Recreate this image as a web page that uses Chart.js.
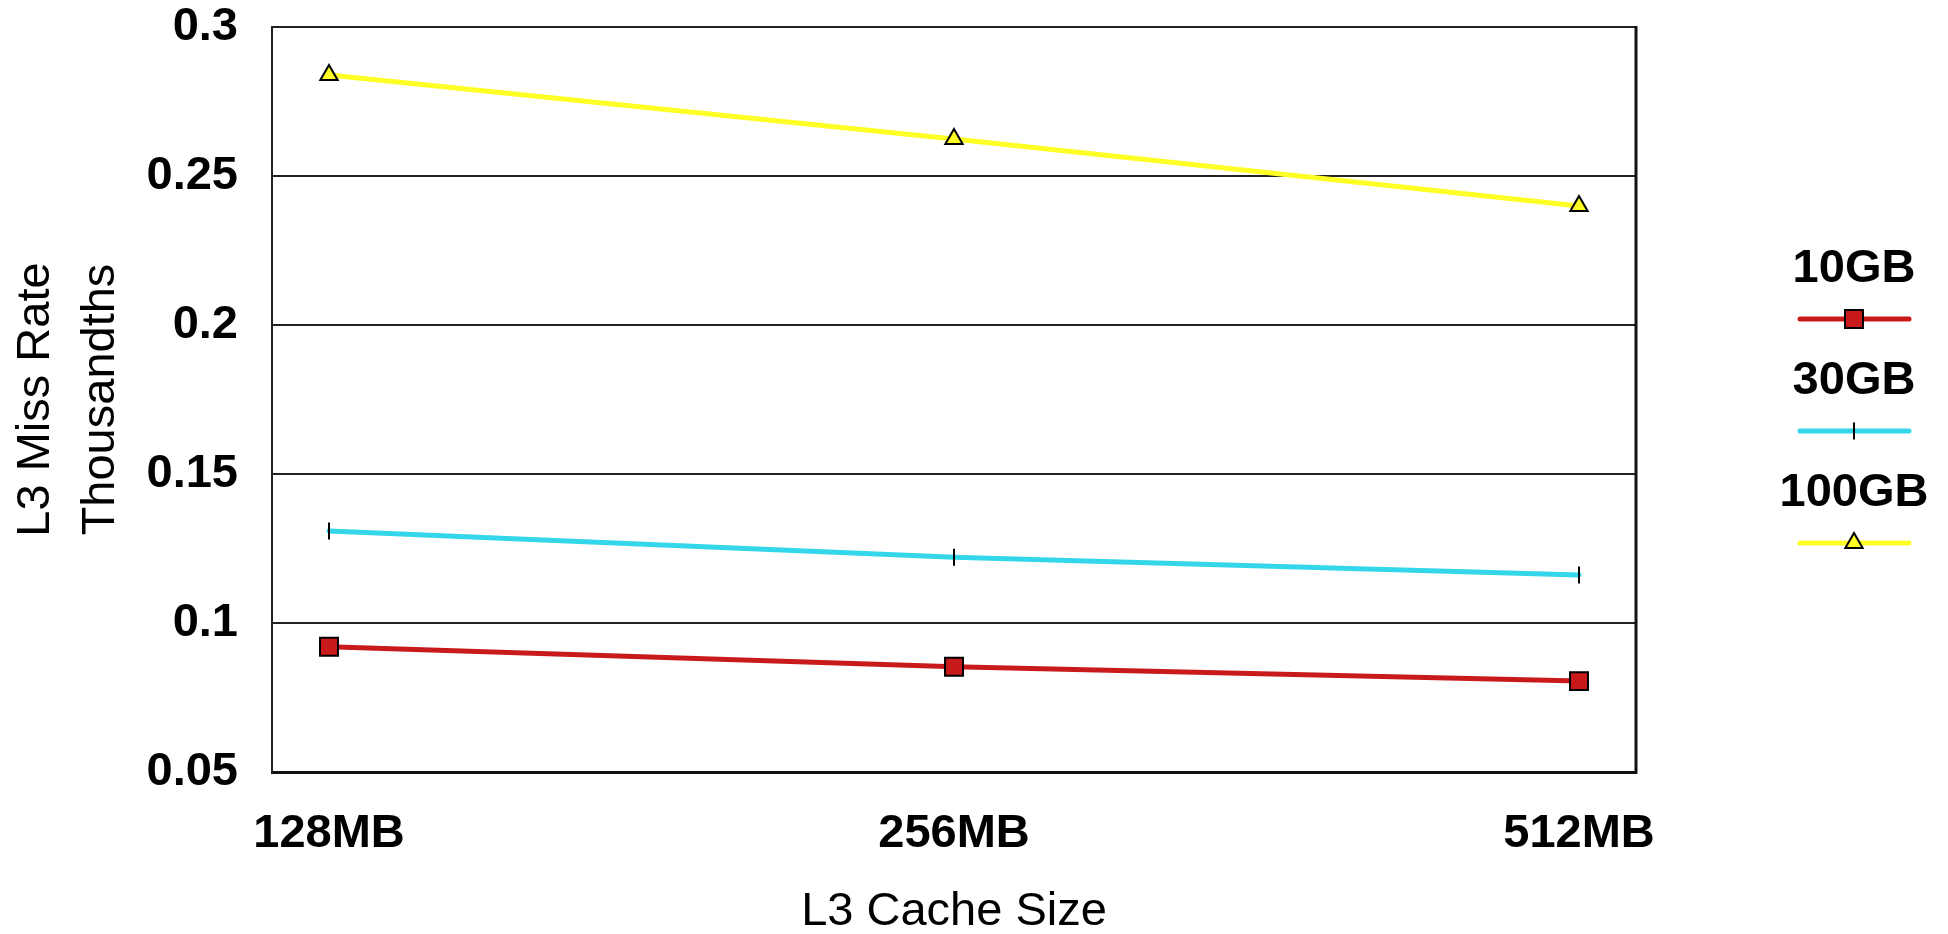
<!DOCTYPE html>
<html>
<head>
<meta charset="utf-8">
<script src="https://cdn.jsdelivr.net/npm/chart.js@4/dist/chart.umd.min.js"></script>
<style>
  html, body { margin: 0; padding: 0; background: #ffffff; }
  #wrap { width: 1948px; height: 934px; }
</style>
</head>
<body>
<div id="wrap"><canvas id="c" width="1948" height="934"></canvas></div>
<script>
// L3 cache sizes on the x axis
const cacheSizes = ['128MB', '256MB', '512MB'];

// L3 miss rate (thousandths) per data-set size
const series10GB = [0.0920, 0.0853, 0.0805];
const series30GB = [0.1309, 0.1221, 0.1161];
const series100GB = [0.2839, 0.2624, 0.2399];

const seriesLabels = ['10GB', '30GB', '100GB'];
const yTicks = [0.05, 0.1, 0.15, 0.2, 0.25, 0.3];

const FONT = "'Liberation Sans', Arial, Helvetica, sans-serif";

function toPoints(values) {
  return values.map((v, i) => ({ x: i, y: v }));
}

// Legend drawn as label above a short line sample with the marker on it
const stackedLegend = {
  id: 'stackedLegend',
  afterDraw(chart) {
    const ctx = chart.ctx;
    const cx = 1854;
    chart.data.datasets.forEach((ds, i) => {
      const textBase = 282 + i * 112;
      const lineY = 319 + i * 112;
      ctx.save();
      ctx.fillStyle = '#000';
      ctx.font = 'bold 47px ' + FONT;
      ctx.textAlign = 'center';
      ctx.textBaseline = 'alphabetic';
      ctx.fillText(ds.label, cx, textBase);

      ctx.strokeStyle = ds.borderColor;
      ctx.lineWidth = ds.borderWidth;
      ctx.lineCap = 'round';
      ctx.beginPath();
      ctx.moveTo(1800, lineY);
      ctx.lineTo(1909, lineY);
      ctx.stroke();

      ctx.fillStyle = ds.pointBackgroundColor;
      ctx.strokeStyle = ds.pointBorderColor;
      ctx.lineWidth = ds.pointBorderWidth;
      ctx.lineCap = 'butt';
      Chart.helpers.drawPoint(ctx, {
        pointStyle: ds.pointStyle,
        rotation: ds.pointRotation || 0,
        radius: ds.pointRadius,
        borderWidth: ds.pointBorderWidth
      }, cx, lineY);
      ctx.restore();
    });
  }
};

// Right-hand frame edge of the plot area
const plotFrame = {
  id: 'plotFrame',
  afterDraw(chart) {
    const a = chart.chartArea;
    const ctx = chart.ctx;
    ctx.save();
    ctx.strokeStyle = '#111';
    ctx.lineWidth = 3;
    ctx.beginPath();
    ctx.moveTo(a.right, a.top - 1);
    ctx.lineTo(a.right, a.bottom + 1.5);
    ctx.stroke();
    ctx.restore();
  }
};

const colors = ['rgb(200,26,26)', 'rgb(52,214,234)', 'rgb(255,255,38)'];
const values = [series10GB, series30GB, series100GB];
const markers = [
  { pointStyle: 'rect', pointRadius: 12.7, pointRotation: 0, pointBackgroundColor: 'rgb(200,26,26)' },
  { pointStyle: 'line', pointRadius: 8.5, pointRotation: 90, pointBackgroundColor: '#000' },
  { pointStyle: 'triangle', pointRadius: 10, pointRotation: 0, pointBackgroundColor: 'rgb(255,255,38)' }
];

const datasets = seriesLabels.map((label, i) => Object.assign({
  label: label,
  data: toPoints(values[i]),
  borderColor: colors[i],
  backgroundColor: colors[i],
  borderWidth: 5,
  borderCapStyle: 'round',
  tension: 0,
  fill: false,
  pointBorderColor: '#000',
  pointBorderWidth: 2,
  pointHoverRadius: 12.7
}, markers[i]));

new Chart(document.getElementById('c'), {
  type: 'line',
  data: { datasets: datasets },
  options: {
    responsive: false,
    animation: false,
    devicePixelRatio: 1,
    layout: { padding: { left: 0, right: 312, top: 27, bottom: 0 } },
    plugins: {
      legend: { display: false },
      tooltip: { enabled: false }
    },
    scales: {
      x: {
        type: 'linear',
        min: -0.0912,
        max: 2.0912,
        afterBuildTicks(scale) {
          scale.ticks = cacheSizes.map((_, i) => ({ value: i }));
        },
        afterFit(scale) {
          scale.height = 162;
          scale.paddingLeft = 0;
          scale.paddingRight = 0;
        },
        grid: { display: false, drawTicks: false },
        border: { display: true, color: '#111', width: 3 },
        ticks: {
          color: '#000',
          padding: 34,
          maxRotation: 0,
          autoSkip: false,
          font: { family: FONT, size: 47, weight: 'bold', lineHeight: 1.2 },
          callback: (v) => cacheSizes[v]
        },
        title: {
          display: true,
          text: 'L3 Cache Size',
          color: '#000',
          font: { family: FONT, size: 47, weight: 'normal', lineHeight: 0.85 },
          padding: { top: 0, bottom: 2 }
        }
      },
      y: {
        min: 0.05,
        max: 0.3,
        afterBuildTicks(scale) {
          scale.ticks = yTicks.map(v => ({ value: v }));
        },
        afterFit(scale) {
          scale.width = 272;
          scale.paddingTop = 27;
          scale.paddingBottom = 0;
        },
        grid: { color: '#222', lineWidth: 2, drawTicks: false },
        border: { display: true, color: '#222', width: 2 },
        ticks: {
          color: '#000',
          padding: 34,
          font: { family: FONT, size: 47, weight: 'bold', lineHeight: 1.1 },
          callback: (v) => String(Number(v.toFixed(2)))
        },
        title: {
          display: true,
          text: ['L3 Miss Rate', 'Thousandths'],
          color: '#000',
          font: { family: FONT, size: 47, weight: 'normal', lineHeight: 1.39 },
          padding: { top: 3, bottom: 0 }
        }
      }
    }
  },
  plugins: [stackedLegend, plotFrame]
});
</script>
</body>
</html>
